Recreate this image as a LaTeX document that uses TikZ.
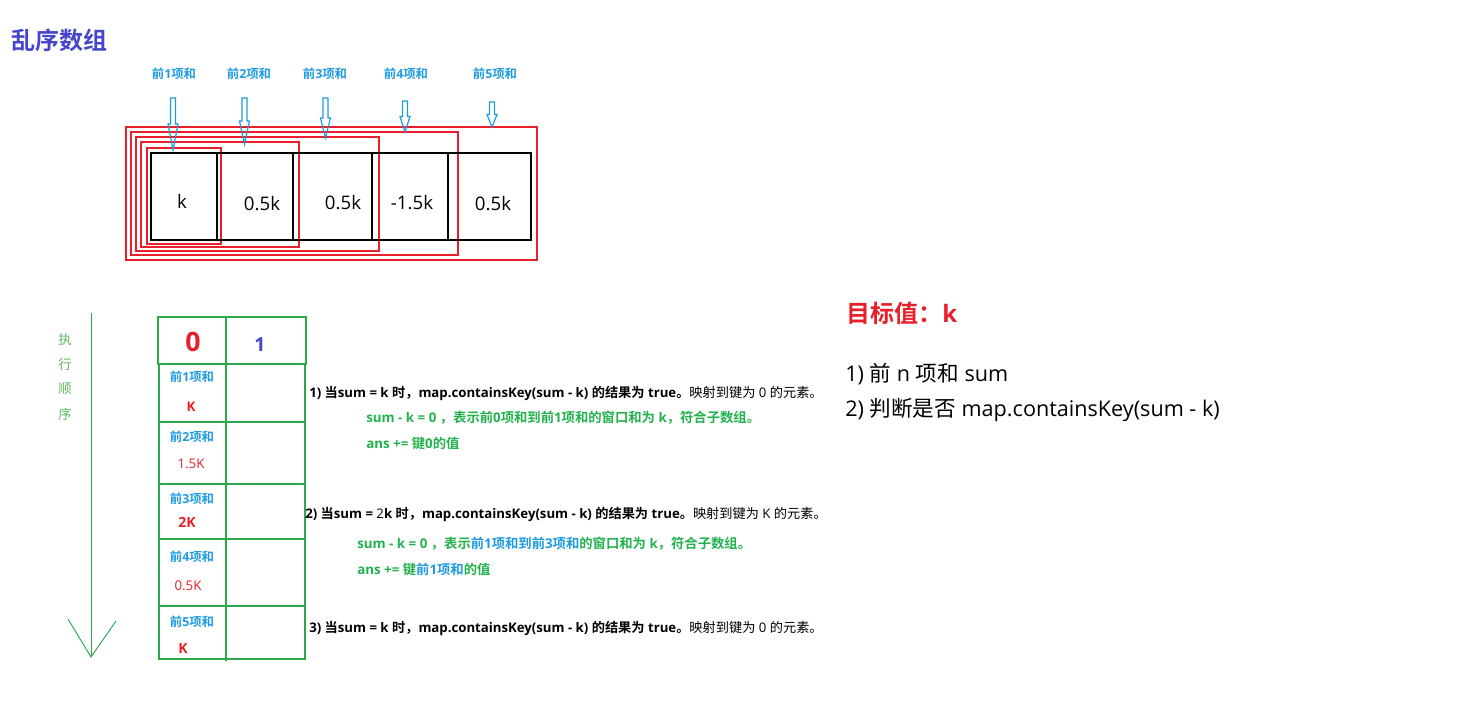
\documentclass[tikz,border=0pt]{standalone}
\usepackage{fontspec}
\setmainfont{Open Sans}
\newfontfamily\latinfont{Open Sans}
\newfontfamily\cjkfont{Noto Sans CJK SC}[BoldFont={Noto Sans CJK SC Bold}]
\XeTeXinterchartokenstate=1
\newXeTeXintercharclass\CJKcls
\newcount\cjkc
\def\setcjkrange#1#2{\cjkc=#1\relax
  \loop\XeTeXcharclass\cjkc=\CJKcls\relax\ifnum\cjkc<#2\relax\advance\cjkc by 1\relax\repeat}
\setcjkrange{"3000}{"303F}
\setcjkrange{"4E00}{"9FFF}
\setcjkrange{"FF00}{"FFEF}
\XeTeXinterchartoks 0 \CJKcls = {\cjkfont}
\XeTeXinterchartoks 4095 \CJKcls = {\cjkfont}
\XeTeXinterchartoks \CJKcls 0 = {\latinfont}
\XeTeXinterchartoks \CJKcls 4095 = {\latinfont}
\definecolor{ttl}{HTML}{4646CC}
\definecolor{lblue}{HTML}{1E9BE0}
\definecolor{rred}{HTML}{E8202A}
\definecolor{lgreen}{HTML}{22B14C}
\definecolor{agreen}{HTML}{2AA84A}
\definecolor{vgreen}{HTML}{5DB85D}
\begin{document}
\begin{tikzpicture}[x=0.75pt,y=-0.75pt,
  lbl/.style={inner sep=0pt,font=\fontsize{9.3}{11}\selectfont\bfseries,text=lblue},
  cellv/.style={inner sep=0pt,font=\fontsize{14}{16}\selectfont},
  redbox/.style={draw=rred,line width=0.8pt},
  blkbox/.style={draw=black,line width=0.9pt},
  harr/.style={draw=lblue,line width=0.9pt,line join=miter},
  tbl/.style={draw=agreen,line width=0.8pt},
  para/.style={inner sep=0pt,anchor=west,font=\fontsize{9.9}{12}\selectfont},
  gpara/.style={para,text=lgreen,font=\fontsize{10}{12}\selectfont\bfseries},
  vtxt/.style={inner sep=0pt,text=vgreen,font=\fontsize{10}{12}\selectfont}]
\useasboundingbox (0,0) rectangle (1475,704);
% title
\node[inner sep=0pt,anchor=west,text=ttl,font=\fontsize{18}{20}\selectfont\bfseries] (title) at (11,40) {乱序数组};
% red nested windows
\draw[redbox] (126,127) rectangle (537,260);
\draw[redbox] (131,132) rectangle (458,255);
\draw[redbox] (136,137) rectangle (379,251);
\draw[redbox] (141,142) rectangle (299,247);
\draw[redbox] (147,148) rectangle (221,244);
% black cells
\draw[blkbox] (151,153) rectangle (531,240);
\foreach \xx in {217,293,372,448} \draw[blkbox] (\xx,153) -- (\xx,240);
\node[cellv] (c1) at (182,201) {k};
\node[cellv] (c2) at (262,204) {0.5k};
\node[cellv] (c3) at (343,203) {0.5k};
\node[cellv] (c4) at (412,203) {-1.5k};
\node[cellv] (c5) at (493,204) {0.5k};
% labels
\node[lbl] (p1) at (174,74) {前1项和};
\node[lbl] (p2) at (249,74) {前2项和};
\node[lbl] (p3) at (325,74) {前3项和};
\node[lbl] (p4) at (406,74) {前4项和};
\node[lbl] (p5) at (495,74) {前5项和};
% hollow arrows
\foreach \c/\t/\b in {173/98/150,244.5/98/144,325.5/98/138,405/101/132,492/102/127}{
  \pgfmathsetmacro{\h}{(\t+\b)/2}
  \draw[harr] (\c-2.5,\t) -- (\c+2.5,\t) -- (\c+2.5,\h) -- (\c+5,\h) -- (\c,\b) -- (\c-5,\h) -- (\c-2.5,\h) -- cycle;
}
% execution order arrow
\coordinate (vtop) at (91,313);
\coordinate (vtip) at (91,657);
\coordinate (vl) at (68,619);
\coordinate (vr) at (116,621);
\draw[agreen,line width=0.7pt] (vtop) -- (vtip);
\draw[agreen,line width=0.7pt] (vl) -- (vtip) -- (vr);
\node[vtxt] (v1) at (65,339) {执};
\node[vtxt] (v2) at (65,364) {行};
\node[vtxt] (v3) at (65,389) {顺};
\node[vtxt] (v4) at (65,414) {序};
% table
\draw[tbl] (158,317) rectangle (306,364);
\draw[tbl] (226,317) -- (226,364);
\draw[tbl] (159,364) rectangle (305,659);
\draw[tbl] (226,364) -- (226,661);
\foreach \yy in {422,484,539,606} \draw[tbl] (159,\yy) -- (305,\yy);
\node[inner sep=0pt,text=rred,font=\fontsize{20}{22}\selectfont\bfseries] (h0) at (193,342) {0};
\node[inner sep=0pt,text=ttl,font=\fontsize{14.5}{16}\selectfont\bfseries] (h1) at (260,345) {1};
\node[lbl] (r1) at (192,377) {前1项和};
\node[inner sep=0pt,text=rred,font=\fontsize{10}{12}\selectfont\bfseries] (k1) at (191,407) {K};
\node[lbl] (r2) at (192,437) {前2项和};
\node[inner sep=0pt,text=rred,font=\fontsize{10}{12}\selectfont] (k2) at (191,464) {1.5K};
\node[lbl] (r3) at (192,499) {前3项和};
\node[inner sep=0pt,text=rred,font=\fontsize{10.5}{12}\selectfont\bfseries] (k3) at (187,522) {2K};
\node[lbl] (r4) at (192,557) {前4项和};
\node[inner sep=0pt,text=rred,font=\fontsize{10}{12}\selectfont] (k4) at (188,586) {0.5K};
\node[lbl] (r5) at (192,622) {前5项和};
\node[inner sep=0pt,text=rred,font=\fontsize{10.5}{12}\selectfont\bfseries] (k5) at (183,648) {K};
% explanations
\node[para] (e1) at (309,393) {\textbf{1) 当sum = k 时，map.containsKey(sum - k) 的结果为 true。}映射到键为 0 的元素。};
\node[gpara] (e1a) at (366,418) {sum - k = 0 ，表示前0项和到前1项和的窗口和为 k，符合子数组。};
\node[gpara] (e1b) at (366,443) {ans += 键0的值};
\node[para] (e2) at (305,514) {\textbf{2) 当sum = }2\textbf{k 时，map.containsKey(sum - k) 的结果为 true。}映射到键为 K 的元素。};
\node[gpara] (e2a) at (357,544) {sum - k = 0 ，表示{\color{lblue}前1项和到前3项和}的窗口和为 k，符合子数组。};
\node[gpara] (e2b) at (357,569) {ans += 键{\color{lblue}前1项和}的值};
\node[para] (e3) at (309,628) {\textbf{3) 当sum = k 时，map.containsKey(sum - k) 的结果为 true。}映射到键为 0 的元素。};
% right side
\node[inner sep=0pt,anchor=west,text=rred,font=\fontsize{18}{20}\selectfont\bfseries] (goal) at (846,313) {目标值：k};
\node[inner sep=0pt,anchor=west,font=\fontsize{16.2}{19}\selectfont] (s1) at (845,374) {1) 前 n 项和 sum};
\node[inner sep=0pt,anchor=west,font=\fontsize{16.2}{19}\selectfont] (s2) at (845,410) {2) 判断是否 map.containsKey(sum - k)};
\end{tikzpicture}
\end{document}
